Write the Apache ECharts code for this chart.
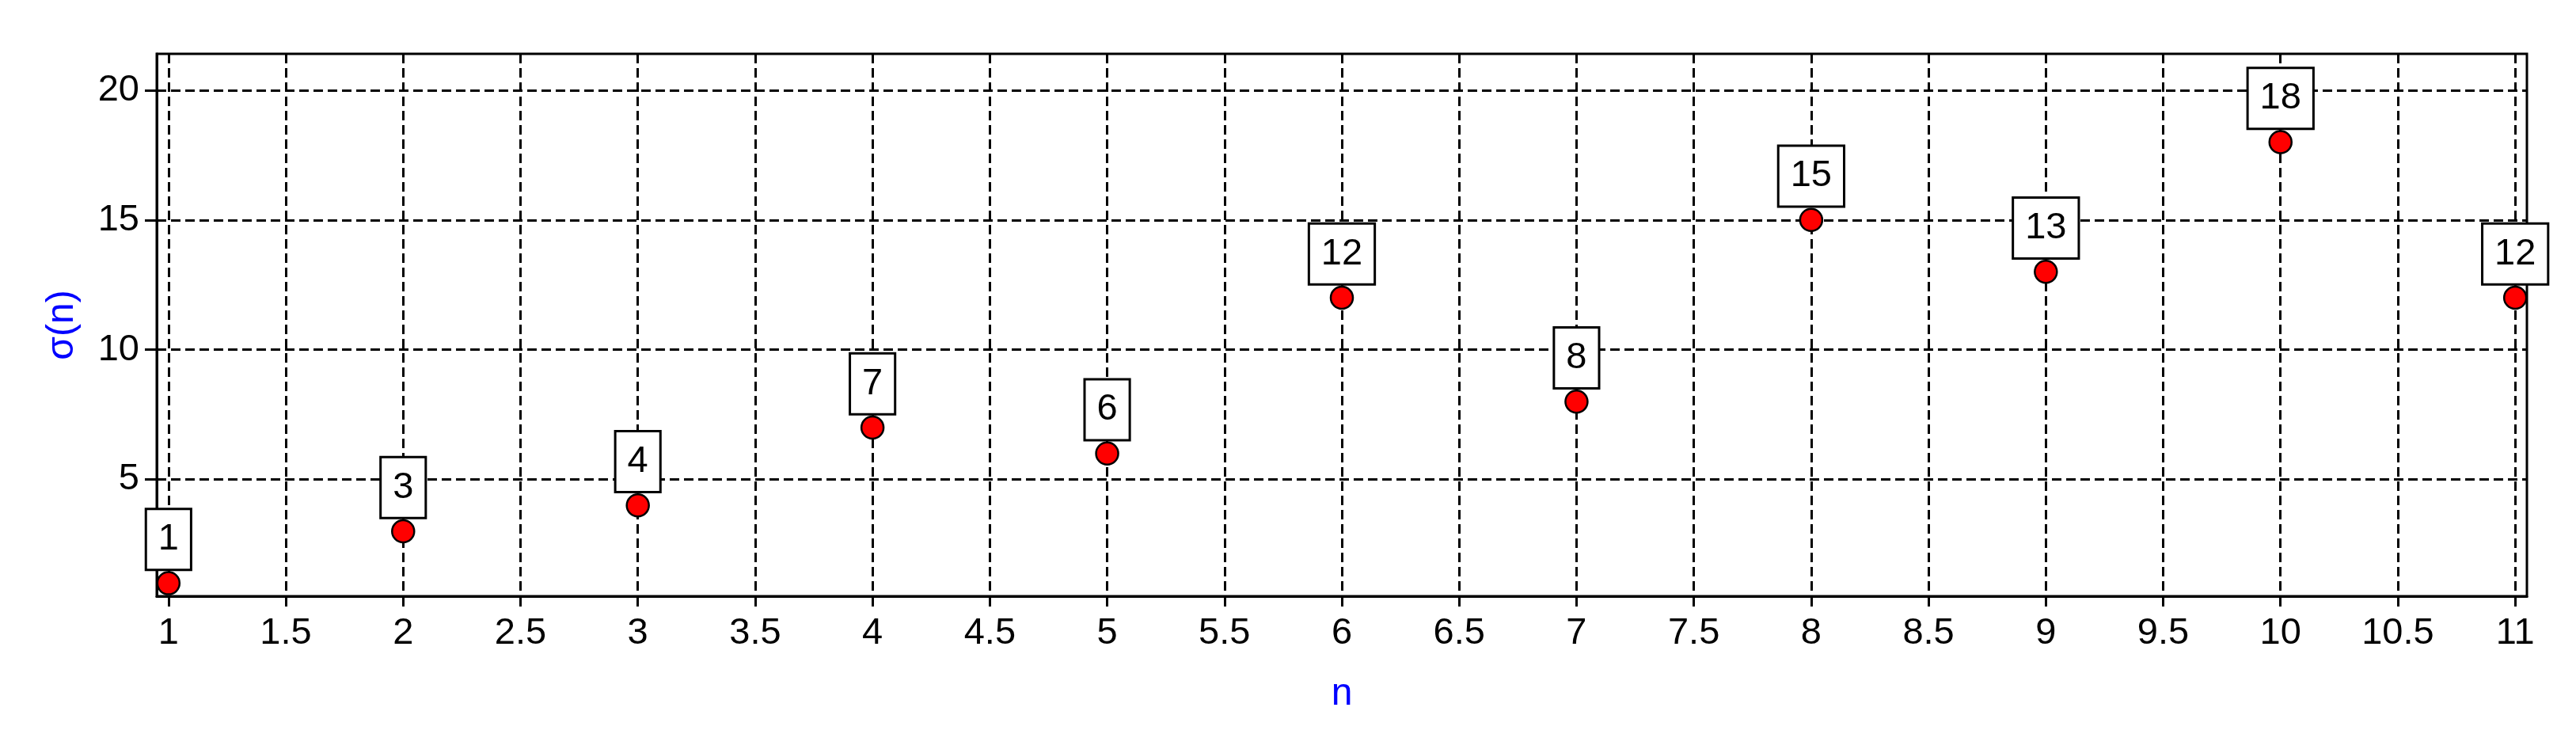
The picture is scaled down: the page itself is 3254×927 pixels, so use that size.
<!DOCTYPE html>
<html>
<head>
<meta charset="utf-8">
<script src="https://cdn.jsdelivr.net/npm/echarts@6/dist/echarts.min.js"></script>
<style>
  html, body { margin: 0; padding: 0; background: #fff; }
  #sigmaChart { width: 3254px; height: 927px; }
</style>
</head>
<body>
<div id="sigmaChart"></div>
<script>
var nValues = [1, 2, 3, 4, 5, 6, 7, 8, 9, 10, 11];
var sigmaValues = [1, 3, 4, 7, 6, 12, 8, 15, 13, 18, 12];
var xTicks = [1, 1.5, 2, 2.5, 3, 3.5, 4, 4.5, 5, 5.5, 6, 6.5, 7, 7.5, 8, 8.5, 9, 9.5, 10, 10.5, 11];
var yTicks = [5, 10, 15, 20];

var points = [];
for (var i = 0; i < nValues.length; i++) {
    points.push([nValues[i], sigmaValues[i]]);
}

var font = '"Liberation Sans", Arial, sans-serif';
var chart = echarts.init(document.getElementById('sigmaChart'));

var option = {
    animation: false,
    backgroundColor: '#fff',
    grid: {
        left: 198,
        right: 62,
        top: 68,
        bottom: 174,
        show: true,
        borderColor: '#000',
        borderWidth: 3
    },
    xAxis: {
        type: 'value',
        min: 0.95,
        max: 11.05,
        splitNumber: 20,
        name: 'n',
        nameLocation: 'middle',
        nameGap: 100,
        nameTextStyle: { color: '#0000ff', fontSize: 48, fontFamily: font },
        axisLine: { show: true, lineStyle: { color: '#000', width: 3 } },
        axisTick: { show: true, length: 13, customValues: xTicks, lineStyle: { color: '#000', width: 3 } },
        axisLabel: { customValues: xTicks, margin: 24, color: '#000', fontSize: 47, fontFamily: font },
        splitLine: { show: true, lineStyle: { color: '#000', width: 3, type: 'dashed' } }
    },
    yAxis: {
        type: 'value',
        min: 0.5,
        max: 21.4,
        splitNumber: 4,
        name: 'σ(n)',
        nameLocation: 'middle',
        nameGap: 95,
        nameTextStyle: { color: '#0000ff', fontSize: 48, fontFamily: font },
        axisLine: { show: true, lineStyle: { color: '#000', width: 3 } },
        axisTick: { show: true, length: 15, customValues: yTicks, lineStyle: { color: '#000', width: 3 } },
        axisLabel: { customValues: yTicks, margin: 22, color: '#000', fontSize: 47, fontFamily: font },
        splitLine: { show: true, lineStyle: { color: '#000', width: 3, type: 'dashed' } }
    },
    series: [
        {
            name: 'σ(n)',
            type: 'scatter',
            data: points,
            symbol: 'circle',
            symbolSize: 28,
            z: 5,
            itemStyle: { color: '#ff0000', borderColor: '#000', borderWidth: 2.5, opacity: 1 },
            label: {
                show: true,
                position: 'top',
                distance: 3,
                opacity: 1,
                formatter: function (p) { return p.value[1]; },
                color: '#000',
                fontSize: 47,
                fontFamily: font,
                lineHeight: 50,
                backgroundColor: '#fff',
                borderColor: '#000',
                borderWidth: 3,
                padding: [12, 14]
            },
            emphasis: { disabled: true }
        }
    ]
};

chart.setOption(option);
</script>
</body>
</html>
